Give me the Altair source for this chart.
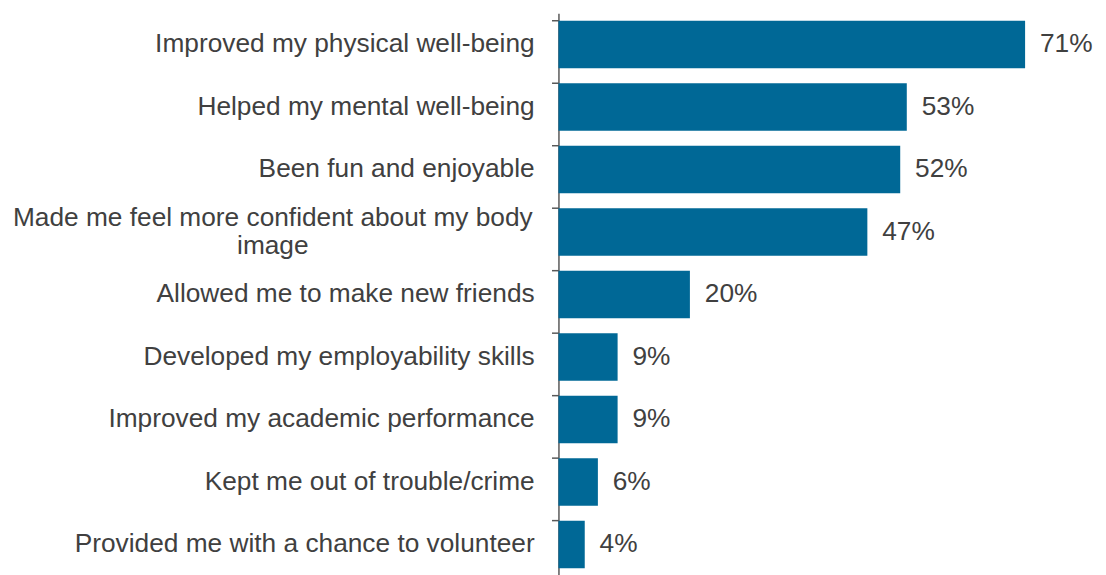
import altair as alt
import pandas as pd

categories = [
    "Improved my physical well-being",
    "Helped my mental well-being",
    "Been fun and enjoyable",
    "Made me feel more confident about my body image",
    "Allowed me to make new friends",
    "Developed my employability skills",
    "Improved my academic performance",
    "Kept me out of trouble/crime",
    "Provided me with a chance to volunteer",
]
values = [71, 53, 52, 47, 20, 9, 9, 6, 4]
wrapped_category = "Made me feel more confident about my body image"
wrapped_lines = ["Made me feel more confident about my body", "image"]

FONT = "Liberation Sans"
FS = 26.5
BAR = "#006896"
TXT = "#404040"

df = pd.DataFrame({"cat": categories, "val": values})
df["lbl"] = [f"{v}%" for v in values]
df_plain = df[df["cat"] != wrapped_category].copy()
df_wrap = pd.DataFrame({"cat": [wrapped_category], "lines": [wrapped_lines]})

yenc = alt.Y(
    "cat:N",
    sort=categories,
    scale=alt.Scale(paddingInner=0.24, paddingOuter=0.12),
    axis=alt.Axis(
        title=None,
        labels=False,
        domain=True,
        domainColor="#595959",
        domainWidth=1.5,
        ticks=True,
        tickSize=7,
        tickColor="#595959",
        tickWidth=1.5,
        bandPosition=0,
        grid=False,
    ),
)

xscale = alt.Scale(domain=[0, 75])

bars = alt.Chart(df).mark_bar(color=BAR).encode(
    x=alt.X("val:Q", scale=xscale, axis=None),
    y=yenc,
)

vals = alt.Chart(df).mark_text(
    align="left", baseline="middle", dx=15, font=FONT, fontSize=FS, color=TXT
).encode(
    x=alt.X("val:Q", scale=xscale, axis=None),
    y=alt.Y("cat:N", sort=categories),
    text="lbl:N",
)

labels = alt.Chart(df_plain).mark_text(
    align="right", baseline="middle", font=FONT, fontSize=FS, color=TXT
).encode(
    x=alt.value(-24),
    y=alt.Y("cat:N", sort=categories),
    text="cat:N",
)

wrap = alt.Chart(df_wrap).mark_text(
    align="center", baseline="middle", font=FONT, fontSize=FS, color=TXT,
    lineHeight=28, dy=-14,
).encode(
    x=alt.value(-288),
    y=alt.Y("cat:N", sort=categories),
    text="lines",
)

chart = alt.layer(bars, vals, labels, wrap).properties(
    width=497, height=567,
    padding={"left": 4, "top": 3, "right": 5, "bottom": 0},
    background="white",
).configure_view(stroke=None)

chart.save("out.html", embed_options={"renderer": "svg", "actions": False})
